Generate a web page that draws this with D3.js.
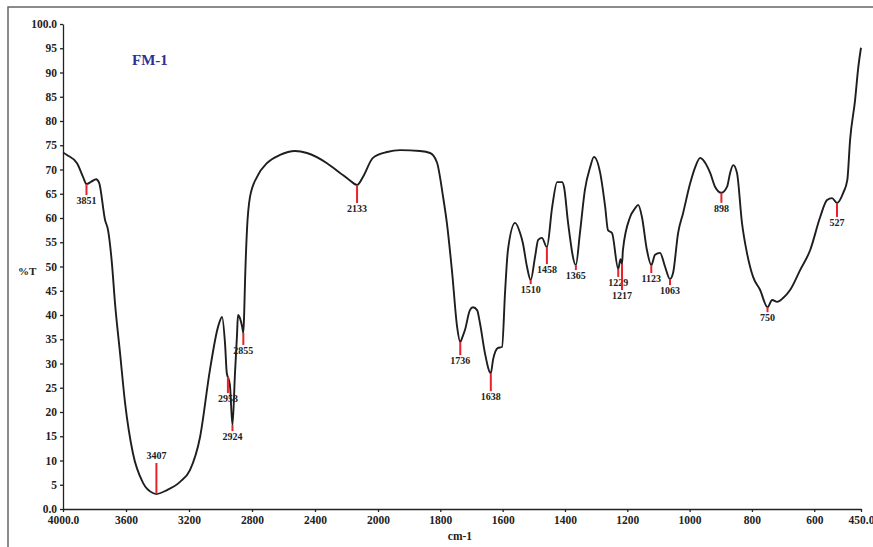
<!DOCTYPE html>
<html>
<head>
<meta charset="utf-8">
<script src="https://cdn.jsdelivr.net/npm/d3@7/dist/d3.min.js"></script>
<style>
  body { margin: 0; background: #fff; }
  svg { display: block; }
  .axis text { font-family: "Liberation Serif", "DejaVu Serif", serif; font-weight: bold; font-size: 11.5px; fill: #222; }
  .axis path, .axis line { stroke: #222; stroke-width: 1.3; }
</style>
</head>
<body>
<svg id="chart"></svg>
<script>
// FTIR spectrum of FM-1
const wavenumber = [4000, 3975, 3911, 3873, 3851, 3820, 3790, 3771, 3733, 3714, 3689, 3670, 3638, 3606, 3556, 3492, 3429, 3407,
  3340, 3257, 3194, 3130, 3067, 3016, 2990, 2971, 2960, 2953, 2940, 2924, 2908, 2895, 2889, 2876, 2862, 2855, 2850, 2844,
  2832, 2813, 2768, 2705, 2622, 2527, 2451, 2324, 2241, 2180, 2133, 2095, 2032, 1971, 1929, 1865, 1833, 1811, 1791, 1779,
  1762, 1746, 1736, 1730, 1721, 1705, 1695, 1682, 1673, 1657, 1638, 1631, 1615, 1602, 1592, 1583, 1560, 1544, 1535, 1522,
  1510, 1496, 1486, 1474, 1458, 1441, 1425, 1409, 1403, 1390, 1365, 1352, 1336, 1319, 1307, 1287, 1271, 1262, 1249, 1229,
  1222, 1217, 1214, 1191, 1175, 1165, 1153, 1137, 1123, 1111, 1095, 1079, 1063, 1053, 1037, 1021, 998, 982, 966, 957, 934,
  918, 898, 880, 870, 860, 848, 832, 816, 796, 774, 750, 735, 719, 700, 677, 645, 613, 581, 559, 543, 527, 507, 494, 485,
  469, 459, 450];
const transmittance = [73.5, 73.0, 71.3, 68.5, 67.0, 67.5, 68.0, 67.3, 59.6, 57.5, 50.5, 42.5, 32.2, 21.9, 11.5, 5.4, 3.3, 3.1,
  3.9, 5.6, 8.0, 14.8, 28.7, 37.5, 39.6, 34, 28, 27.2, 25.5, 17.3, 28, 36, 40.0, 39.3, 37.5, 36.3, 40, 47.2,
  57.5, 64.3, 68.5, 71.3, 73.0, 73.8, 73.4, 71.3, 69.3, 67.8, 66.8, 68.5, 72.4, 73.6, 74.0, 73.8, 73.4, 71.5, 64.3, 59,
  48.7, 37.5, 34.4, 35.3, 36.9, 41, 41.6, 41, 38.4, 32.2, 28, 30.7, 33.2, 33.4, 45, 53.4, 59, 56.9, 54.8, 50,
  47.2, 52, 55.5, 55.9, 54, 62.3, 67.4, 67.4, 66.4, 59, 50.3, 56.9, 65.8, 70.5, 72.6, 69.3, 62.3, 57.5, 56.9, 49.5,
  51.5, 50.5, 53.4, 60.2, 62, 62.7, 60.2, 53.4, 50.3, 52.4, 52.8, 50, 47.4, 48.7, 56.9, 61, 67.2, 70.5, 72.4, 72, 69.3,
  66.4, 65.2, 66.4, 69.3, 70.9, 69.3, 59, 52.8, 47.8, 45.2, 41.6, 43.1, 42.7, 43.5, 45.2, 49.3, 53.4, 60.2, 63.7, 64.1, 63.1, 65.2, 67.8, 76.1,
  84.3, 90.9, 95.1];

// labelled bands
const peaks = [3851, 3407, 2953, 2924, 2855, 2133, 1736, 1638, 1510, 1458, 1365, 1229, 1217, 1123, 1063, 898, 750, 527];

// axis ticks
const xTicks = [4000, 3600, 3200, 2800, 2400, 2000, 1800, 1600, 1400, 1200, 1000, 800, 600, 450];
const yTicks = d3.range(0, 101, 5);

const sampleName = "FM-1";
const xTitle = "cm-1";
const yTitle = "%T";

const width = 873, height = 547;
const svg = d3.select("#chart").attr("width", width).attr("height", height);

// frame around the figure
svg.append("path")
  .attr("d", `M8,${height} L8,7 L${width},7`)
  .attr("fill", "none")
  .attr("stroke", "#666")
  .attr("stroke-width", 1.5);

// x scale is compressed above 2000 cm-1, like the instrument output
const x = d3.scaleLinear().domain([4000, 2000, 450]).range([63, 378, 861]);
const y = d3.scaleLinear().domain([0, 100]).range([509, 24]);

svg.append("g")
  .attr("class", "axis")
  .attr("transform", "translate(0,509)")
  .call(d3.axisBottom(x).tickValues(xTicks).tickSize(3).tickSizeOuter(0).tickPadding(4)
    .tickFormat(d => (d === 4000 || d === 450) ? d.toFixed(1) : d));

svg.append("g")
  .attr("class", "axis")
  .attr("transform", "translate(63,0)")
  .call(d3.axisLeft(y).tickValues(yTicks).tickSize(3).tickSizeOuter(0).tickPadding(3)
    .tickFormat(d => (d === 0 || d === 100) ? d.toFixed(1) : d));

svg.append("text")
  .attr("x", 460).attr("y", 540)
  .attr("text-anchor", "middle")
  .attr("font-family", "Liberation Serif, serif")
  .attr("font-weight", "bold")
  .attr("font-size", 11.5)
  .attr("fill", "#222")
  .text(xTitle);

svg.append("text")
  .attr("x", 18).attr("y", 275)
  .attr("font-family", "Liberation Serif, serif")
  .attr("font-weight", "bold")
  .attr("font-size", 11)
  .attr("fill", "#222")
  .text(yTitle);

svg.append("text")
  .attr("x", 132).attr("y", 65)
  .attr("font-family", "Liberation Serif, serif")
  .attr("font-weight", "bold")
  .attr("font-size", 15)
  .attr("fill", "#2e3192")
  .text(sampleName);

const spectrum = wavenumber.map((w, i) => ({ w, t: transmittance[i] }));
const tAt = new Map(spectrum.map(d => [d.w, d.t]));

const line = d3.line()
  .x(d => x(d.w))
  .y(d => y(d.t))
  .curve(d3.curveMonotoneX);

svg.append("path")
  .datum(spectrum)
  .attr("d", line)
  .attr("fill", "none")
  .attr("stroke", "#1e1e1e")
  .attr("stroke-width", 1.9)
  .attr("stroke-linejoin", "round");

// red marker length in px below the curve (negative = above)
const tickLen = { 3851: 11, 3407: -31, 2953: 16, 2924: 6, 2855: 12, 2133: 18, 1736: 13, 1638: 18, 1510: 4,
  1458: 17, 1365: 5, 1229: 8, 1217: 26, 1123: 8, 1063: 6, 898: 10, 750: 5, 527: 14 };

const marks = svg.append("g");
peaks.forEach(p => {
  const px = x(p), py = y(tAt.get(p));
  const len = tickLen[p];
  marks.append("line")
    .attr("x1", px).attr("x2", px)
    .attr("y1", py).attr("y2", py + len)
    .attr("stroke", "#e8212b")
    .attr("stroke-width", 2);
  marks.append("text")
    .attr("x", px)
    .attr("y", len < 0 ? py + len - 4 : py + len + 9)
    .attr("text-anchor", "middle")
    .attr("font-family", "Liberation Serif, serif")
    .attr("font-weight", "bold")
    .attr("font-size", 10)
    .attr("fill", "#222")
    .text(p);
});
</script>
</body>
</html>
